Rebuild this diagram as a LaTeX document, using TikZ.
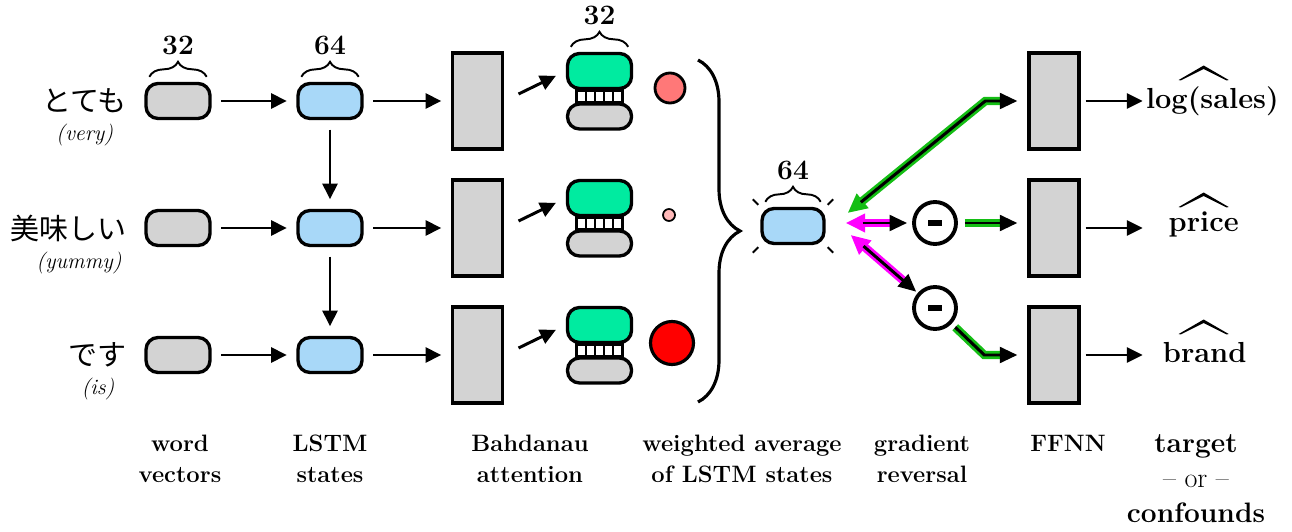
\documentclass[tikz,border=0pt]{standalone}
\usepackage{amsmath}
\usepackage{fontspec}
\newfontfamily\jpfont{Noto Sans CJK JP}
\usepackage{tikz}
\usetikzlibrary{positioning,arrows.meta,calc,decorations.pathreplacing}
\definecolor{vecGray}{RGB}{211,211,211}
\definecolor{lstmBlue}{RGB}{168,216,248}
\definecolor{attGreen}{RGB}{0,235,160}
\definecolor{gradGreen}{RGB}{20,190,20}
\definecolor{gradPink}{RGB}{255,0,255}
\definecolor{wtHigh}{RGB}{255,0,0}
\definecolor{wtMid}{RGB}{255,120,120}
\definecolor{wtLow}{RGB}{255,185,185}

\begin{document}
\begin{tikzpicture}[
  box/.style={draw, line width=1.9pt, rounded corners=0.24cm, minimum width=1.28cm, minimum height=0.70cm, inner sep=0pt},
  wordvec/.style={box, fill=vecGray},
  lstm/.style={box, fill=lstmBlue},
  tall/.style={draw, line width=1.9pt, fill=vecGray, minimum width=1.0cm, minimum height=1.92cm, inner sep=0pt},
  keyhalf/.style={box, fill=attGreen, rounded corners=0.24cm},
  valhalf/.style={box, fill=vecGray, minimum height=0.5cm, rounded corners=0.24cm},
  attw/.style={circle, draw, inner sep=0pt},
  revnode/.style={circle, draw, line width=2.2pt, minimum size=0.84cm, inner sep=0pt},
  arr/.style={-{Triangle[length=9pt,width=8.5pt]}, line width=1.7pt, shorten <=0.19cm, shorten >=0.19cm},
  fwd/.style={line width=1.7pt, -{Triangle[length=10pt,width=9pt]}},
  gradline/.style={line width=4.8pt, draw=#1},
  gradback/.style={gradline=#1, {Triangle[length=11pt,width=10pt]}-},
  dimbrace/.style={decorate, decoration={brace, amplitude=0.3cm}, line width=1.1pt},
  dimnum/.style={font=\fontsize{16}{18}\selectfont\bfseries, inner sep=0pt},
  jplbl/.style={font=\jpfont\fontsize{16.5}{20}\selectfont, inner sep=0pt},
  enlbl/.style={font=\fontsize{12.5}{14}\selectfont\itshape, inner sep=0pt},
  outlbl/.style={font=\fontsize{16.5}{20}\selectfont\bfseries, inner sep=0pt},
  outhat/.style={fill, draw=none},
  steplbl/.style={anchor=north, align=center, inner sep=0pt, font=\fontsize{13.5}{17.6}\selectfont\bfseries}
]
  \useasboundingbox (0,0) rectangle (25.84,10.62);

  % three input words, each through the same chain
  \foreach \i/\y in {1/8.60, 2/6.06, 3/3.52} {
    \node[wordvec] (w\i) at (3.56,\y) {};
    \node[lstm] (l\i) at (6.60,\y) {};
    \node[tall] (a\i) at (9.55,\y) {};
    \node[keyhalf] (g\i) at (11.99,{\y+0.60}) {};
    \node[valhalf] (v\i) at (11.99,{\y-0.31}) {};
    \node[tall] (f\i) at (21.08,\y) {};
    \draw[line width=1.6pt, fill=white] ($(g\i.south)+(-0.46,0)$) rectangle ($(v\i.north)+(0.46,0)$);
    \foreach \k in {1,...,4}
      \draw[line width=1.3pt] ($(g\i.south)+({-0.46+0.184*\k},0)$) -- ($(v\i.north)+({-0.46+0.184*\k},0)$);
    \draw[arr] (w\i) -- (l\i);
    \draw[arr] (l\i) -- (a\i);
    \draw[arr, shorten <=0.32cm, shorten >=0.22cm] (a\i.east) -- (g\i.west);
    % hat over the predicted value
    \coordinate (h\i) at ($(f\i.east)+(2.46,0.42)$);
    \fill[outhat] ($(h\i)+(-0.5,0)$) -- ($(h\i)+(0,0.29)$) -- ($(h\i)+(0.5,0)$) -- ($(h\i)+(0.46,-0.01)$) -- ($(h\i)+(0,0.22)$) -- ($(h\i)+(-0.46,-0.01)$) -- cycle;
  }
  \draw[arr] (l1) -- (l2);
  \draw[arr] (l2) -- (l3);

  % words
  \node[jplbl, left=0.34cm of w1] (jp1) {とても};
  \node[enlbl, below=0.2cm of jp1] (en1) {(very)};
  \node[jplbl, left=0.34cm of w2] (jp2) {美味しい};
  \node[enlbl, below=0.2cm of jp2, xshift=0.2cm] (en2) {(yummy)};
  \node[jplbl, left=0.34cm of w3] (jp3) {です};
  \node[enlbl, below=0.2cm of jp3] (en3) {(is)};

  % sizes
  \draw[dimbrace] ($(w1.north west)+(0.1,0.1)$) -- node[dimnum, above=0.42cm] (dw) {32} ($(w1.north east)+(-0.1,0.1)$);
  \draw[dimbrace] ($(l1.north west)+(0.1,0.1)$) -- node[dimnum, above=0.42cm] (dl) {64} ($(l1.north east)+(-0.1,0.1)$);
  \draw[dimbrace] ($(g1.north west)+(0.1,0.1)$) -- node[dimnum, above=0.42cm] (dg) {32} ($(g1.north east)+(-0.1,0.1)$);

  % attention weights
  \node[attw, fill=wtMid, line width=1.6pt, minimum size=0.6cm] (p1) at (13.40,8.86) {};
  \node[attw, fill=wtLow, line width=1pt, minimum size=0.24cm] (p2) at (13.38,6.32) {};
  \node[attw, fill=wtHigh, line width=1.8pt, minimum size=0.86cm] (p3) at (13.44,3.76) {};
  \draw[decorate, decoration={brace, amplitude=0.84cm}, line width=1.8pt] (13.96,9.42) -- (13.96,2.58);

  % weighted average
  \node[lstm, minimum width=1.24cm] (c) at (15.86,6.10) {};
  \draw[dimbrace] ($(c.north west)+(0.1,0.1)$) -- node[dimnum, above=0.42cm] (dc) {64} ($(c.north east)+(-0.1,0.1)$);
  \foreach \a/\sx/\sy in {north west/-1/1, north east/1/1, south west/-1/-1, south east/1/-1}
    \draw[line width=1.1pt] ($(c.\a)+({0.04*\sx},{0.04*\sy})$) -- ($(c.\a)+({0.15*\sx},{0.15*\sy})$);

  % gradient reversal
  \node[revnode] (m1) at (18.70,6.16) {\rule{0.28cm}{3pt}};
  \node[revnode] (m2) at (18.70,4.46) {\rule{0.28cm}{3pt}};
  \coordinate (tA) at ($(c.east)+(0.44,0.26)$);
  \coordinate (tB) at ($(c.east)+(0.40,0.06)$);
  \coordinate (tC) at ($(c.east)+(0.50,-0.18)$);
  \coordinate (kA) at ($(f1.west)+(-0.84,0)$);
  \coordinate (kC) at ($(f3.west)+(-0.86,0)$);

  \draw[gradback=gradGreen, shorten >=0.55cm] (tA) -- (kA) -- (f1.west);
  \draw[fwd, shorten <=0.34cm, shorten >=0.2cm] (tA) -- (kA) -- (f1.west);

  \draw[gradback=gradPink, shorten >=0.45cm] (tB) -- (m1);
  \draw[fwd, shorten <=0.34cm, shorten >=0.1cm] (tB) -- (m1);
  \draw[gradline=gradGreen, shorten <=0.14cm, shorten >=0.55cm] (m1) -- (m1 -| f2.west);
  \draw[fwd, shorten <=0.14cm, shorten >=0.2cm] (m1) -- (m1 -| f2.west);

  \draw[gradback=gradPink, shorten >=0.38cm] (tC) -- (m2);
  \draw[fwd, shorten <=0.34cm, shorten >=0.04cm] (tC) -- (m2);
  \draw[gradline=gradGreen, shorten <=0.1cm, shorten >=0.55cm] (m2) -- (kC) -- (f3.west);
  \draw[fwd, shorten <=0.1cm, shorten >=0.2cm] (m2) -- (kC) -- (f3.west);

  % outputs
  \coordinate (e1) at ($(f1.east)+(1.24,0)$);
  \coordinate (e2) at ($(f2.east)+(1.24,0)$);
  \coordinate (e3) at ($(f3.east)+(1.24,0)$);
  \draw[arr, shorten >=0pt, shorten <=0.1cm] (f1.east) -- (e1);
  \draw[arr, shorten >=0pt, shorten <=0.1cm] (f2.east) -- (e2);
  \draw[arr, shorten >=0pt, shorten <=0.1cm] (f3.east) -- (e3);
  \node[outlbl, anchor=base west] (o1) at ($(e1)+(0.06,-0.16)$) {log(sales)};
  \node[outlbl, anchor=base] (o2) at ($(f2.east)+(2.46,-0.08)$) {price};
  \node[outlbl, anchor=base] (o3) at ($(f3.east)+(2.48,-0.14)$) {brand};

  % stage labels
  \node[steplbl] (sw) at (3.60,1.93) {word\\vectors};
  \node[steplbl] (sl) at (6.60,1.93) {LSTM\\states};
  \node[steplbl] (sb) at (10.60,1.93) {Bahdanau\\attention};
  \node[steplbl] (sa) at (14.84,1.93) {weighted average\\of LSTM states};
  \node[steplbl] (sg) at (18.44,1.93) {gradient\\reversal};
  \node[steplbl] (sf) at (21.36,1.93) {FFNN};
  \node[steplbl, font=\fontsize{16}{19.8}\selectfont] (st) at (23.92,1.93) {\textbf{target}\\-- or --\\\textbf{confounds}};
\end{tikzpicture}
\end{document}
